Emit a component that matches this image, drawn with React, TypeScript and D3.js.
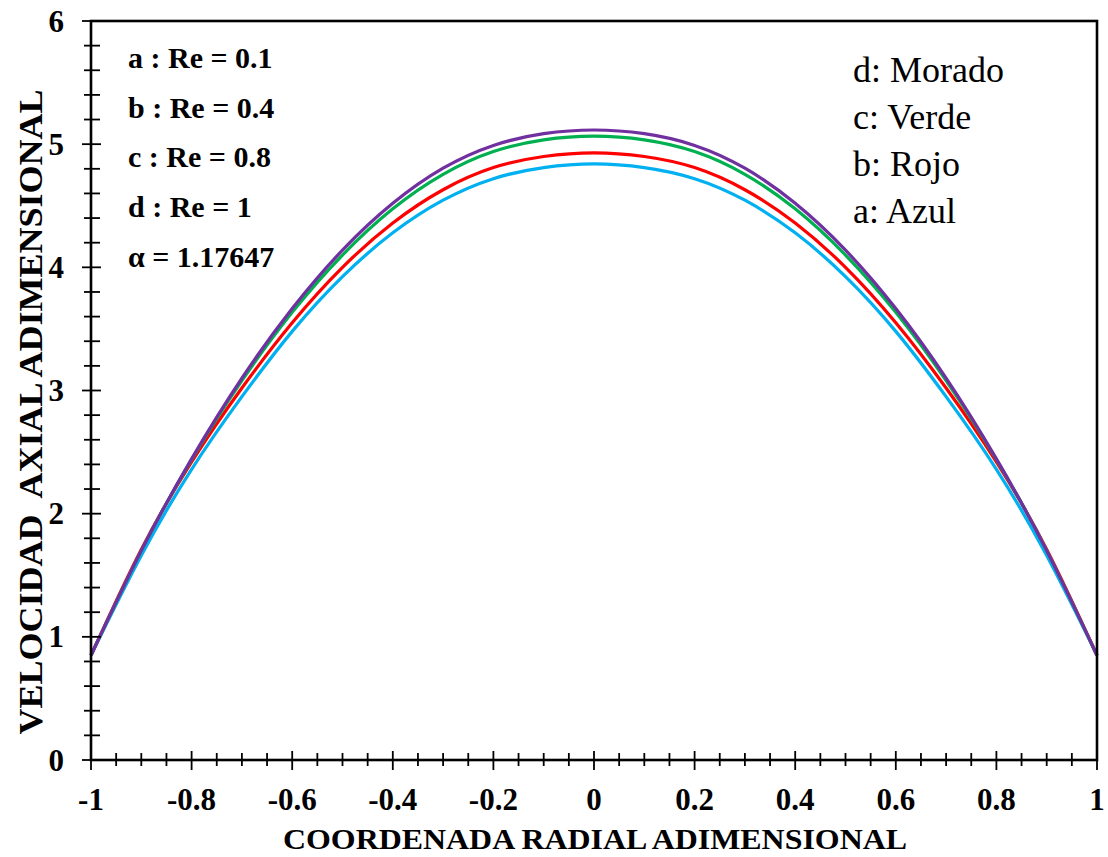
import React from "react";
import * as d3 from "d3";

// radial coordinate samples
const radial = [-1, -0.9, -0.8, -0.7, -0.6, -0.5, -0.4, -0.3, -0.2, -0.1, 0, 0.1, 0.2, 0.3, 0.4, 0.5, 0.6, 0.7, 0.8, 0.9, 1];

// axial velocity
const azul = [0.85, 1.66, 2.36, 2.95, 3.48, 3.925, 4.28, 4.545, 4.72, 4.81, 4.84, 4.81, 4.72, 4.545, 4.28, 3.925, 3.48, 2.95, 2.36, 1.66, 0.85];
const rojo = [0.85, 1.71, 2.42, 3.02, 3.55, 4.0, 4.36, 4.63, 4.81, 4.9, 4.93, 4.9, 4.81, 4.63, 4.36, 4.0, 3.55, 3.02, 2.42, 1.71, 0.85];
const verde = [0.85, 1.7, 2.44, 3.08, 3.635, 4.1, 4.475, 4.755, 4.94, 5.035, 5.065, 5.035, 4.94, 4.755, 4.475, 4.1, 3.635, 3.08, 2.44, 1.7, 0.85];
const morado = [0.85, 1.7, 2.445, 3.1, 3.665, 4.14, 4.52, 4.805, 4.99, 5.085, 5.115, 5.085, 4.99, 4.805, 4.52, 4.14, 3.665, 3.1, 2.445, 1.7, 0.85];

const seriesNames = ["a", "b", "c", "d"];
const seriesColors = ["#00B0F0", "#FF0000", "#00B050", "#7030A0"];

const xTickLabels = ["-1", "-0.8", "-0.6", "-0.4", "-0.2", "0", "0.2", "0.4", "0.6", "0.8", "1"];
const yTickLabels = ["0", "1", "2", "3", "4", "5", "6"];

const notes = ["a : Re = 0.1", "b : Re = 0.4", "c : Re = 0.8", "d : Re = 1", "α = 1.17647"];
const legendLines = ["d: Morado", "c: Verde", "b: Rojo", "a: Azul"];

export default function App() {
  const width = 1108;
  const height = 857;
  const left = 91, right = 1097, top = 21, bottom = 760;

  const x = d3.scaleLinear().domain([-1, 1]).range([left, right]);
  const y = d3.scaleLinear().domain([0, 6]).range([bottom, top]);

  const line = d3
    .line<number>()
    .x((_, i) => x(radial[i]))
    .y((v) => y(v))
    .curve(d3.curveNatural);

  const series = [azul, rojo, verde, morado];

  const xMinor = d3.range(-1, 1.0001, 0.05);
  const yMinor = d3.range(0, 6.0001, 0.2);
  const serif = "'Liberation Serif', 'Times New Roman', serif";

  return (
    <svg width={width} height={height} style={{ position: "absolute", left: 0, top: 0, background: "#fff" }}>
      {/* curves */}
      {series.map((s, i) => (
        <path key={seriesNames[i]} d={line(s) || ""} fill="none" stroke={seriesColors[i]} strokeWidth={3.2} />
      ))}

      {/* frame */}
      <rect x={left} y={top} width={right - left} height={bottom - top} fill="none" stroke="#000" strokeWidth={2.6} />

      {/* y ticks */}
      {yMinor.map((v, i) => {
        const major = i % 5 === 0;
        return (
          <line key={"ym" + i} x1={left - (major ? 9 : 7)} x2={left + (major ? 10 : 9)} y1={y(v)} y2={y(v)} stroke="#000" strokeWidth={1.8} />
        );
      })}
      {/* x ticks */}
      {xMinor.map((v, i) => {
        const major = i % 4 === 0;
        return (
          <line key={"xm" + i} x1={x(v)} x2={x(v)} y1={bottom - (major ? 9 : 7)} y2={bottom + (major ? 10 : 6)} stroke="#000" strokeWidth={1.8} />
        );
      })}

      {/* tick labels */}
      {yTickLabels.map((t) => (
        <text key={"yl" + t} x={64} y={y(+t)} dy="0.34em" textAnchor="end" fontFamily={serif} fontWeight="bold" fontSize={31}>
          {t}
        </text>
      ))}
      {xTickLabels.map((t) => (
        <text key={"xl" + t} x={x(+t)} y={810} textAnchor="middle" fontFamily={serif} fontWeight="bold" fontSize={31}>
          {t}
        </text>
      ))}

      {/* axis titles */}
      <text x={595} y={849} textAnchor="middle" fontFamily={serif} fontWeight="bold" fontSize={30} textLength={624} lengthAdjust="spacingAndGlyphs">
        COORDENADA RADIAL ADIMENSIONAL
      </text>
      <text
        transform={`translate(42,412) rotate(-90)`}
        textAnchor="middle"
        fontFamily={serif}
        fontWeight="bold"
        fontSize={33}
        textLength={645}
        lengthAdjust="spacingAndGlyphs"
        style={{ whiteSpace: "pre" }}
      >
        {"VELOCIDAD  AXIAL ADIMENSIONAL"}
      </text>

      {/* notes */}
      {notes.map((n, i) => (
        <text key={n} x={128} y={68 + i * 49.7} fontFamily={serif} fontWeight="bold" fontSize={30}>
          {n}
        </text>
      ))}

      {/* colour legend */}
      {legendLines.map((n, i) => (
        <text key={n} x={853} y={82 + i * 47} fontFamily={serif} fontSize={36}>
          {n}
        </text>
      ))}
    </svg>
  );
}
